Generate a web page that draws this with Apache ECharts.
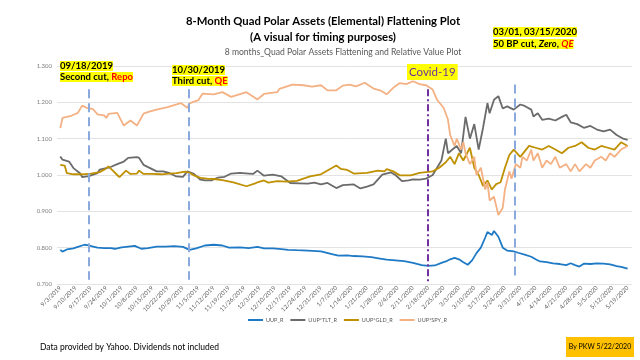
<!DOCTYPE html>
<html><head><meta charset="utf-8">
<script src="https://cdn.jsdelivr.net/npm/echarts@6/dist/echarts.min.js"></script>
<style>html,body{margin:0;padding:0;background:#fff}#c{width:640px;height:360px}</style>
</head><body><div id="c"></div>
<script>
// x values are calendar days since 9/3/2019
const tickLabels = ['9/3/2019','9/10/2019','9/17/2019','9/24/2019','10/1/2019','10/8/2019','10/15/2019','10/22/2019','10/29/2019','11/5/2019','11/12/2019','11/19/2019','11/26/2019','12/3/2019','12/10/2019','12/17/2019','12/24/2019','12/31/2019','1/7/2020','1/14/2020','1/21/2020','1/28/2020','2/4/2020','2/11/2020','2/18/2020','2/25/2020','3/3/2020','3/10/2020','3/17/2020','3/24/2020','3/31/2020','4/7/2020','4/14/2020','4/21/2020','4/28/2020','5/5/2020','5/12/2020','5/19/2020'];
const seriesNames = ['UUP_R','UUP*TLT_R','UUP*GLD_R','UUP*SPY_R'];

const uupR = [[0,0.794],[1,0.789],[3,0.795],[6,0.798],[8,0.802],[10,0.806],[11,0.808],[13,0.806],[15,0.803],[17,0.800],[20,0.799],[23,0.799],[25,0.797],[28,0.801],[31,0.803],[34,0.805],[37,0.797],[40,0.799],[44,0.803],[48,0.803],[52,0.804],[56,0.802],[59,0.794],[62,0.798],[66,0.806],[70,0.808],[74,0.806],[77,0.800],[82,0.801],[86,0.799],[90,0.802],[93,0.798],[97,0.798],[101,0.796],[104,0.794],[108,0.793],[113,0.792],[119,0.790],[124,0.782],[127,0.778],[131,0.779],[134,0.777],[138,0.776],[142,0.774],[146,0.770],[149,0.767],[153,0.765],[157,0.763],[161,0.758],[165,0.752],[168,0.750],[171,0.751],[174,0.758],[176,0.762],[178,0.768],[180,0.772],[182,0.768],[184,0.760],[186,0.753],[188,0.765],[190,0.785],[192,0.800],[194,0.828],[195,0.843],[197,0.835],[198,0.846],[200,0.830],[202,0.800],[204,0.792],[207,0.790],[209,0.786],[212,0.781],[215,0.775],[217,0.768],[219,0.762],[222,0.760],[225,0.757],[228,0.755],[231,0.752],[233,0.757],[235,0.752],[237,0.748],[239,0.756],[242,0.755],[245,0.757],[248,0.756],[251,0.754],[254,0.749],[256,0.747],[259,0.742]];

const uupTltR = [[0,1.051],[1,1.042],[4,1.037],[6,1.019],[9,1.005],[10,0.994],[13,0.997],[17,1.005],[18,1.015],[23,1.022],[26,1.030],[29,1.037],[31,1.047],[35,1.049],[36,1.047],[38,1.028],[41,1.019],[44,1.010],[47,1.010],[50,1.005],[53,0.996],[56,0.995],[58,1.010],[61,1.003],[64,0.987],[66,0.985],[69,0.985],[72,0.993],[75,0.995],[78,1.004],[82,1.006],[86,1.004],[88,1.003],[90,1.012],[93,0.998],[97,1.001],[101,0.996],[105,0.978],[109,0.977],[113,0.976],[116,0.979],[119,0.974],[122,0.978],[126,0.964],[129,0.972],[134,0.974],[137,0.963],[140,0.968],[143,0.974],[147,1.001],[151,1.007],[153,1.000],[156,0.983],[159,0.985],[161,0.988],[164,0.987],[167,0.990],[170,1.000],[172,1.020],[174,1.040],[176,1.100],[177,1.060],[179,1.070],[181,1.080],[183,1.060],[185,1.160],[187,1.100],[189,1.140],[191,1.070],[193,1.130],[195,1.198],[196,1.170],[198,1.207],[200,1.217],[202,1.183],[204,1.189],[207,1.180],[210,1.194],[212,1.190],[215,1.180],[216,1.161],[218,1.170],[220,1.152],[223,1.155],[226,1.150],[229,1.160],[231,1.166],[233,1.145],[236,1.140],[239,1.130],[242,1.135],[245,1.125],[248,1.120],[251,1.125],[254,1.110],[257,1.100],[259,1.097]];

const uupGldR = [[0,1.028],[2,1.026],[3,1.005],[6,1.002],[10,1.002],[14,1.004],[18,1.008],[21,1.018],[22,1.024],[24,1.012],[26,1.000],[27,0.994],[30,1.012],[32,1.003],[35,1.004],[36,1.012],[38,1.003],[42,1.003],[46,1.002],[50,1.004],[53,1.005],[57,1.009],[59,1.006],[61,0.999],[64,0.992],[67,0.990],[70,0.989],[74,0.986],[79,0.980],[85,0.969],[89,0.977],[90,0.980],[93,0.985],[95,0.979],[99,0.983],[103,0.982],[108,0.984],[114,0.996],[119,1.002],[123,1.016],[126,1.026],[128,1.017],[131,1.014],[134,1.004],[140,1.006],[145,1.012],[148,1.010],[149,1.016],[152,1.010],[155,0.999],[160,0.999],[164,1.006],[167,1.008],[170,1.010],[173,1.020],[176,1.035],[178,1.050],[180,1.030],[182,1.060],[184,1.040],[187,1.075],[189,1.020],[191,1.000],[193,0.970],[195,0.985],[197,0.960],[199,0.975],[201,0.980],[203,1.020],[205,1.055],[207,1.070],[210,1.050],[212,1.065],[214,1.080],[217,1.075],[220,1.070],[223,1.080],[226,1.070],[229,1.060],[232,1.075],[235,1.080],[238,1.090],[241,1.075],[244,1.070],[247,1.080],[250,1.075],[253,1.070],[256,1.090],[259,1.080]];

const uupSpyR = [[0,1.129],[1,1.157],[5,1.163],[8,1.171],[10,1.191],[12,1.185],[15,1.181],[17,1.167],[20,1.164],[21,1.157],[22,1.168],[26,1.171],[29,1.136],[32,1.150],[35,1.136],[38,1.169],[41,1.175],[44,1.180],[49,1.187],[55,1.198],[58,1.185],[59,1.197],[63,1.206],[65,1.224],[70,1.222],[74,1.228],[78,1.215],[85,1.228],[90,1.208],[93,1.223],[99,1.228],[100,1.237],[106,1.249],[111,1.247],[115,1.243],[119,1.247],[122,1.233],[126,1.233],[129,1.246],[132,1.249],[135,1.244],[139,1.254],[143,1.238],[146,1.233],[149,1.222],[152,1.240],[155,1.253],[158,1.250],[161,1.258],[164,1.250],[167,1.247],[170,1.235],[172,1.207],[175,1.185],[177,1.152],[178,1.110],[180,1.080],[181,1.100],[183,1.070],[184,1.090],[185,1.060],[187,1.030],[189,1.050],[190,1.000],[192,1.020],[194,0.960],[195,0.980],[196,0.930],[198,0.940],[200,0.890],[202,0.910],[203,0.960],[205,1.010],[206,0.990],[208,1.030],[210,1.020],[211,1.050],[213,1.040],[215,1.070],[216,1.040],[218,1.060],[220,1.020],[222,1.040],[224,1.030],[226,1.050],[228,1.020],[231,1.030],[233,1.010],[235,1.030],[237,1.010],[240,1.030],[242,1.020],[244,1.040],[247,1.050],[249,1.040],[251,1.060],[253,1.050],[256,1.070],[259,1.080]];

// annotation event lines: [day, top value, bottom value]
const eventLines = [[12.8,1.236,0.712],[58.8,1.236,0.712],[167.8,1.236,0.700],[207.5,1.249,0.720]];

const colors = ['#1f7ac6','#6b6b6b','#bf9000','#f4b183'];
const FONT = 'Lato, "Open Sans", sans-serif';
const chart = echarts.init(document.getElementById('c'), null, {renderer:'canvas'});

const dash = {color:'#8aa9dc', width:2, type:[9,5]};
const dashDot = {color:'#7030a0', width:2, type:[7,3,2,3]};
const markData = eventLines.map((e,i)=>[
  {coord:[e[0],e[1]], lineStyle: i===2?dashDot:dash},
  {coord:[e[0],e[2]]}
]);

const allData = [uupR, uupTltR, uupGldR, uupSpyR];
const series = allData.map((d,i)=>({
  name: seriesNames[i], type:'line', data:d, showSymbol:false, symbol:'none',
  lineStyle:{width:1.8, color:colors[i]}, itemStyle:{color:colors[i]},
  animation:false, z: 2+i,
  markLine: i===3 ? {silent:true, symbol:['none','none'], label:{show:false}, data:markData, z:10, animation:false} : undefined
}));

const rs = (o)=>Object.assign({fontSize:9.5, fontWeight:'bold', fill:'#000', backgroundColor:'#ffff00', lineHeight:11, fontFamily:FONT}, o||{});

chart.setOption({
  animation:false,
  textStyle:{fontFamily:FONT},
  legend:{data:seriesNames, bottom:32, left:243, itemWidth:15, itemHeight:2, itemGap:7, icon:'rect',
    textStyle:{fontSize:5.5, color:'#595959', fontFamily:FONT, padding:[0,0,0,-2]}},
  grid:{left:57, right:8, top:66, bottom:76},
  xAxis:{type:'value', min:-1.5, max:261,
    axisLine:{show:false}, axisTick:{show:false}, splitLine:{show:false},
    axisLabel:{customValues: tickLabels.map((_,i)=>i*7), rotate:45, fontSize:6, color:'#595959', margin:3,
      align:'right', verticalAlign:'middle',
      showMinLabel:true, showMaxLabel:true, hideOverlap:false,
      formatter:(v)=>tickLabels[Math.round(v/7)] || ''}},
  yAxis:{type:'value', min:0.7, max:1.3, interval:0.1,
    axisLine:{show:false}, axisTick:{show:false},
    splitLine:{lineStyle:{color:'#e3e3e3', width:1}},
    axisLabel:{fontSize:6, color:'#7f7f7f', margin:5, showMinLabel:true, showMaxLabel:true, formatter:(v)=>v.toFixed(3)}},
  series: series,
  graphic:[
    {type:'text', z:100, style:{x:323, y:16, textAlign:'center', text:'8-Month Quad Polar Assets (Elemental) Flattening Plot', fontSize:11.3, fontWeight:'bold', fill:'#000', fontFamily:FONT}},
    {type:'text', z:100, style:{x:323, y:32, textAlign:'center', text:'(A visual for timing purposes)', fontSize:11.3, fontWeight:'bold', fill:'#000', fontFamily:FONT}},
    {type:'text', z:100, style:{x:343, y:48, textAlign:'center', text:'8 months_Quad Polar Assets Flattening and Relative Value Plot', fontSize:8.6, fill:'#595959', fontFamily:FONT}},
    {type:'text', left:60, top:61, z:100, style:{
      text:'{a|09/18/2019}\n{a|Second cut, }{r|Repo}',
      rich:{a:rs(), r:rs({fill:'#ff0000'})}}},
    {type:'text', left:172, top:65, z:100, style:{
      text:'{a|10/30/2019}\n{a|Third cut, }{r|QE}',
      rich:{a:rs(), r:rs({fill:'#ff0000'})}}},
    {type:'text', left:407, top:64, z:100, style:{
      text:'{c|Covid-19}',
      rich:{c:{fontSize:11.5, fill:'#7030a0', backgroundColor:'#ffff00', padding:[2,2,2,2], fontFamily:FONT}}}},
    {type:'text', left:493, top:27, z:100, style:{
      text:'{a|03/01, 03/15/2020}\n{a|50 BP cut, }{z|Zero}{a|, }{q|QE}',
      rich:{a:rs({lineHeight:12}), z:rs({lineHeight:12, fontStyle:'italic'}), q:rs({lineHeight:12, fontStyle:'italic', fill:'#ff0000'})}}},
    {type:'text', left:40, top:343, style:{text:'Data provided by Yahoo. Dividends not included', fontSize:8.5, fill:'#000', fontFamily:FONT}},
    {type:'rect', shape:{x:566, y:337, width:68, height:20}, style:{fill:'#ffc000'}},
    {type:'text', z:101, style:{x:600, y:343, textAlign:'center', text:'By PKW 5/22/2020', fontSize:7, fill:'#000', fontFamily:FONT}}
  ]
});
</script></body></html>
